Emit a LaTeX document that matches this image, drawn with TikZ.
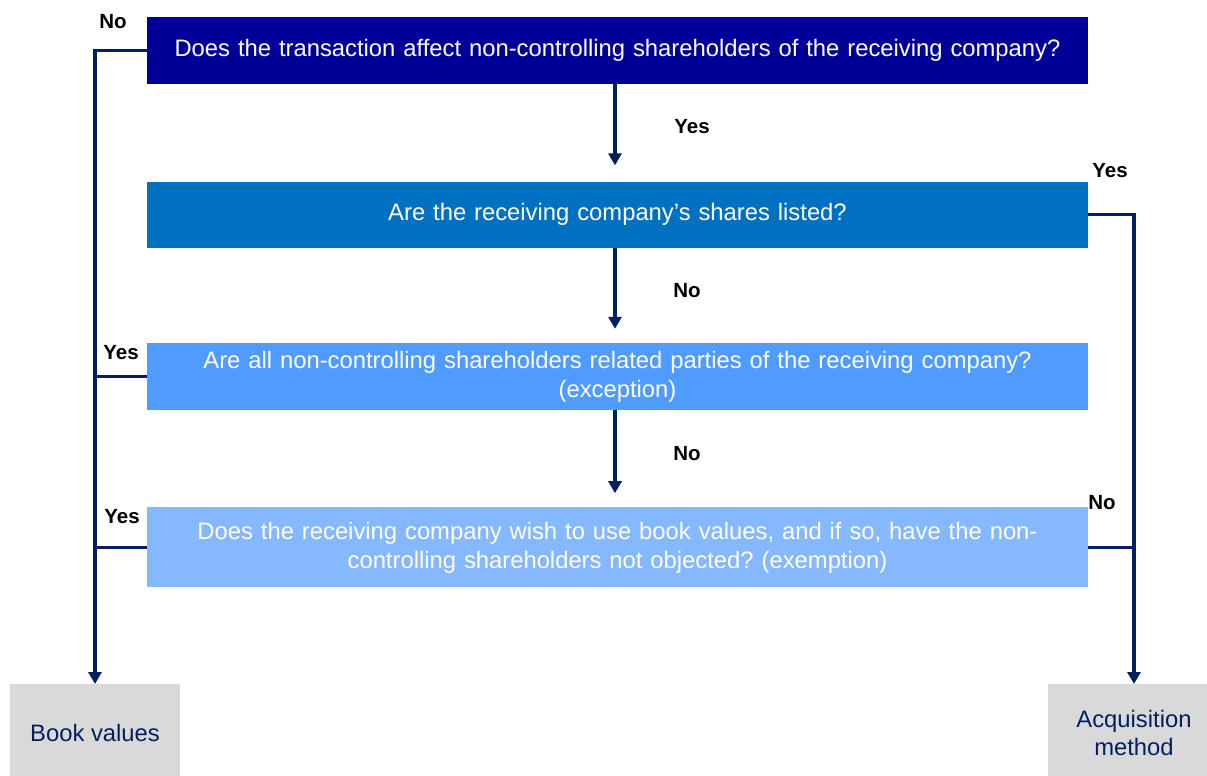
\documentclass[tikz,border=0pt]{standalone}
\usepackage{fontspec}
\setmainfont{Liberation Sans}
\usetikzlibrary{positioning,arrows.meta}
\definecolor{QOne}{RGB}{0,0,153}
\definecolor{QTwo}{RGB}{0,112,192}
\definecolor{QThree}{RGB}{79,155,255}
\definecolor{QFour}{RGB}{133,184,255}
\definecolor{EndGrey}{RGB}{217,217,217}
\definecolor{Navy}{RGB}{0,32,96}
\frenchspacing
\tikzstyle{QBox}=[rectangle, text=white, minimum width=941pt, text width=941pt, inner sep=0pt, align=center, font=\fontsize{23.8}{29}\selectfont]
\tikzstyle{EndBox}=[rectangle, fill=EndGrey, text=Navy, inner sep=0pt, minimum height=98pt, align=center, anchor=north, font=\fontsize{23.8}{28}\selectfont]
\tikzstyle{Lbl}=[font=\bfseries\fontsize{20.5}{22}\selectfont]
\tikzstyle{Flow}=[draw=Navy, line width=3.5pt, -{Triangle[width=13pt,length=12pt]}]

\begin{document}
\begin{tikzpicture}[x=1pt, y=-1pt, node distance=96pt]

    \path[use as bounding box, clip] (0,0) rectangle (1207,776);

    \node (Affect) [QBox, fill=QOne, minimum height=67pt, anchor=north] at (617.5,17)
      {Does the transaction affect non-controlling shareholders of the receiving company?};
    \node (Listed) [QBox, fill=QTwo, minimum height=66pt, below=97pt of Affect]
      {Are the receiving company’s shares listed?};
    \node (Related) [QBox, fill=QThree, minimum height=67pt, below=95pt of Listed]
      {Are all non-controlling shareholders related parties of the receiving company?\\ (exception)};
    \node (Wish) [QBox, fill=QFour, minimum height=80pt, below=97pt of Related]
      {Does the receiving company wish to use book values, and if so, have the non-\\ controlling shareholders not objected? (exemption)};

    \node (BookVal) [EndBox, minimum width=170pt] at (95,684) {Book values};
    \node (AcqMeth) [EndBox, minimum width=172pt] at (1134,684) {Acquisition\\ method};

    % labels on the branches
    \node (YesA) [Lbl] at (692,127) {Yes};
    \node (NoB) [Lbl] at (687,291) {No};
    \node (NoC) [Lbl] at (687,454) {No};
    \node (NoA) [Lbl] at (113,22) {No};
    \node (YesC) [Lbl] at (121,353) {Yes};
    \node (YesD) [Lbl] at (122,517) {Yes};
    \node (YesB) [Lbl] at (1110,171) {Yes};
    \node (NoD) [Lbl] at (1102,503) {No};

    \draw [Flow, shorten >=16pt] (Affect.south -| 615,0) -- (Listed.north -| 615,0);
    \draw [Flow, shorten >=14pt] (Listed.south -| 615,0) -- (Related.north -| 615,0);
    \draw [Flow, shorten >=14pt] (Related.south -| 615,0) -- (Wish.north -| 615,0);
    \draw [Flow] (Affect.west) -| (BookVal.north);
    \draw [Flow, -] (Related.west) -- (Related.west -| BookVal.north);
    \draw [Flow, -] (Wish.west) -- (Wish.west -| BookVal.north);
    \draw [Flow] (Listed.east) -| (AcqMeth.north);
    \draw [Flow, -] (Wish.east) -- (Wish.east -| AcqMeth.north);

  \end{tikzpicture}
\end{document}
